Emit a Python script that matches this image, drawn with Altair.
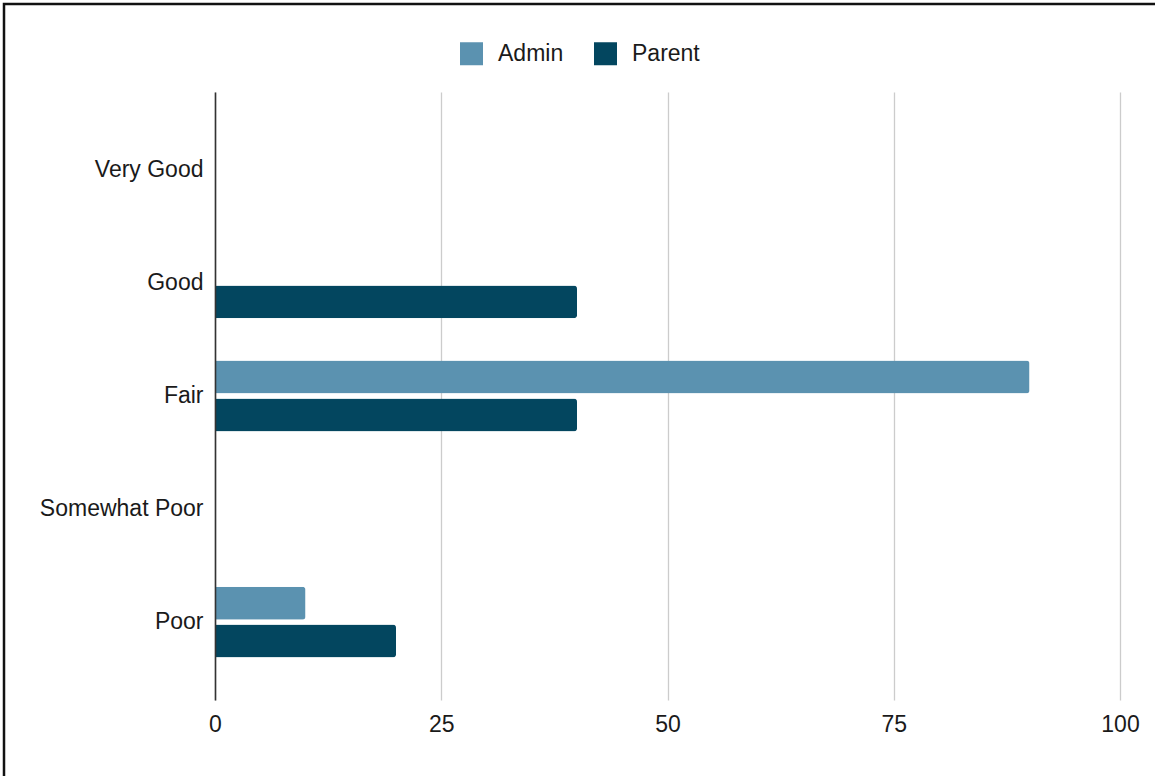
import altair as alt
import pandas as pd

categories = ["Very Good", "Good", "Fair", "Somewhat Poor", "Poor"]
admin = [0, 0, 90, 0, 10]
parent = [0, 40, 40, 0, 20]
series = ["Admin", "Parent"]
colors = ["#5B92B0", "#03465F"]
x_ticks = [0, 25, 50, 75, 100]

rows = []
for c, a, p in zip(categories, admin, parent):
    rows.append({"category": c, "series": "Admin", "value": a})
    rows.append({"category": c, "series": "Parent", "value": p})
df = pd.DataFrame(rows)

FONT = "Liberation Sans"
TXT = "#1a1a1a"

bars = alt.Chart(df).mark_bar(cornerRadiusEnd=3).encode(
    x=alt.X(
        "value:Q",
        scale=alt.Scale(domain=[0, 100], nice=False),
        axis=alt.Axis(
            values=x_ticks, title=None, grid=True, gridColor="#cccccc", gridWidth=1.3,
            domain=False, ticks=False, labelFontSize=23, labelPadding=13,
            labelColor=TXT, labelFont=FONT, labelFlush=False,
        ),
    ),
    y=alt.Y(
        "category:N",
        sort=categories,
        scale=alt.Scale(domain=categories, paddingInner=0.373, paddingOuter=0.375),
        axis=alt.Axis(
            title=None, ticks=False, grid=False, domainColor="#333333", domainWidth=1.6,
            labelFontSize=23, labelPadding=12, labelColor=TXT, labelFont=FONT, zindex=1,
        ),
    ),
    yOffset=alt.YOffset("series:N", sort=series, scale=alt.Scale(domain=series, paddingInner=0.13)),
    color=alt.Color(
        "series:N",
        sort=series,
        scale=alt.Scale(domain=series, range=colors),
        legend=alt.Legend(
            title=None, orient="none", legendX=245, legendY=-50, direction="horizontal",
            symbolType="square", symbolSize=529, symbolStrokeWidth=0, symbolOpacity=1,
            labelFontSize=23, labelFont=FONT, labelColor=TXT, labelOffset=15,
            columnPadding=30,
        ),
    ),
)

border = alt.Chart(alt.Data(values=[{"a": 1}])).mark_rect(
    fill=None, stroke="#111111", strokeWidth=2.5
).encode(
    x=alt.value(-211), x2=alt.value(960), y=alt.value(-88), y2=alt.value(700)
)

chart = alt.layer(bars, border).properties(
    width=905,
    height=608,
    autosize=alt.AutoSizeParams(type="none"),
    padding={"left": 215, "top": 92, "right": 35, "bottom": 76},
    background="white",
).configure_view(stroke=None)

chart.save("out.html", embed_options={"renderer": "svg", "actions": False})
